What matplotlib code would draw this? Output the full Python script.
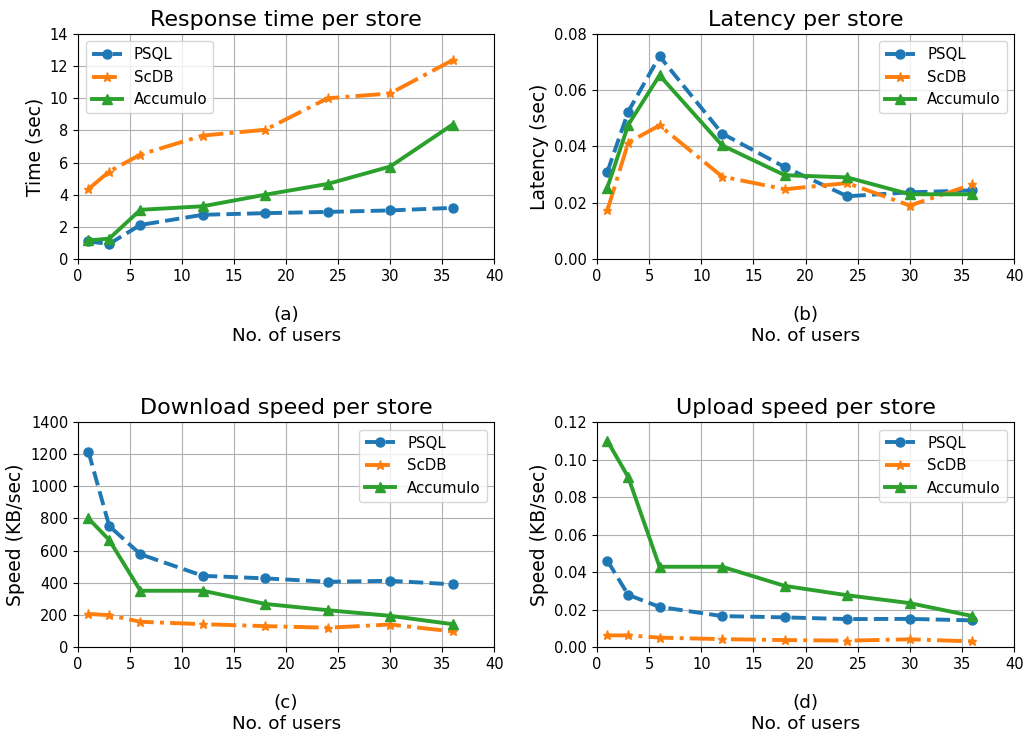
import numpy as np
import matplotlib
matplotlib.use('Agg')
import matplotlib.pyplot as plt

users = [1, 3, 6, 12, 18, 24, 30, 36]
series_names = ['PSQL', 'ScDB', 'Accumulo']

# response time (sec)
resp_psql = [1.09, 0.94, 2.12, 2.75, 2.85, 2.93, 3.02, 3.18]
resp_scdb = [4.35, 5.44, 6.5, 7.68, 8.04, 10.0, 10.3, 12.37]
resp_accu = [1.15, 1.27, 3.06, 3.28, 4.0, 4.67, 5.75, 8.36]

# latency (sec)
lat_psql = [0.031, 0.0524, 0.0721, 0.0446, 0.0327, 0.0223, 0.0237, 0.0244]
lat_scdb = [0.0173, 0.0414, 0.0475, 0.0293, 0.0248, 0.027, 0.019, 0.0265]
lat_accu = [0.0254, 0.0477, 0.0653, 0.0404, 0.0298, 0.029, 0.023, 0.023]

# download speed (KB/sec)
down_psql = [1216, 753, 577, 443, 427, 406, 412, 390]
down_scdb = [206, 198, 157, 142, 130, 120, 140, 97]
down_accu = [800, 666, 350, 350, 268, 229, 194, 142]

# upload speed (KB/sec)
up_psql = [0.046, 0.0278, 0.0214, 0.0165, 0.0158, 0.0149, 0.015, 0.0142]
up_scdb = [0.0062, 0.0062, 0.005, 0.0042, 0.0037, 0.0034, 0.0041, 0.003]
up_accu = [0.1099, 0.0906, 0.0428, 0.0428, 0.0326, 0.0276, 0.0234, 0.0165]

styles = [dict(color='#1f77b4', ls='--', marker='o'),
          dict(color='#ff7f0e', ls='-.', marker='*'),
          dict(color='#2ca02c', ls='-', marker='^')]

panels = [
    ('Response time per store', 'Time (sec)', '(a)', [resp_psql, resp_scdb, resp_accu], (0, 14, 2), 'upper left'),
    ('Latency per store', 'Latency (sec)', '(b)', [lat_psql, lat_scdb, lat_accu], (0, 0.08, 0.02), 'upper right'),
    ('Download speed per store', 'Speed (KB/sec)', '(c)', [down_psql, down_scdb, down_accu], (0, 1400, 200), 'upper right'),
    ('Upload speed per store', 'Speed (KB/sec)', '(d)', [up_psql, up_scdb, up_accu], (0, 0.12, 0.02), 'upper right'),
]

rects = [[0.0761, 0.6486, 0.406, 0.3053],
         [0.5824, 0.6486, 0.407, 0.3053],
         [0.0761, 0.1221, 0.406, 0.3053],
         [0.5824, 0.1221, 0.407, 0.3053]]

fig = plt.figure(figsize=(10.25, 7.37), dpi=100)
for rect, (title, ylab, tag, data, ylim, loc) in zip(rects, panels):
    ax = fig.add_axes(rect)
    for name, vals, st in zip(series_names, data, styles):
        ax.plot(users, vals, label=name, linewidth=2.8, markersize=6.5, **st)
    ax.set_xlim(0, 40)
    ax.set_ylim(ylim[0], ylim[1])
    ax.set_yticks(np.arange(ylim[0], ylim[1] + ylim[2] / 2, ylim[2]))
    ax.set_title(title, fontsize=16)
    ax.set_ylabel(ylab, fontsize=13.5)
    ax.set_xlabel(tag + '\nNo. of users', fontsize=13.2, labelpad=16)
    ax.tick_params(labelsize=10.5)
    ax.grid(True)
    ax.legend(loc=loc, fontsize=10.8)

plt.savefig('out.png', dpi=100)
